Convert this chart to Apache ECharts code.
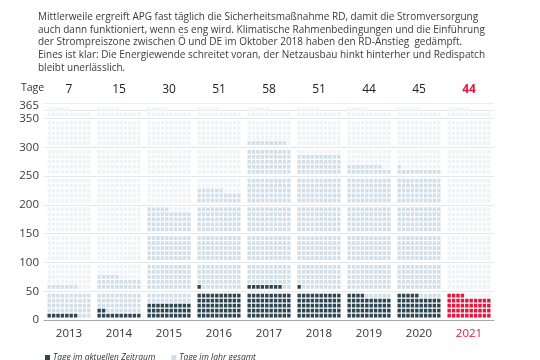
<!DOCTYPE html>
<html><head><meta charset="utf-8">
<script src="https://cdn.jsdelivr.net/npm/echarts@6/dist/echarts.min.js"></script>
<style>html,body{margin:0;padding:0;background:#fff}#c{width:540px;height:360px}</style>
</head><body><div id="c"></div>
<script>
// ---- data ----
const years = ['2013','2014','2015','2016','2017','2018','2019','2020','2021'];
const tageLabels = ['7','15','30','51','58','51','44','45','44'];
const daysCurrent = [7,12,30,51,58,51,44,45,44];
const daysTotal = [57,75,195,226,309,290,268,261,44];
const daysInYear = [365,365,365,365,365,365,365,365,365];
const highlightYear = '2021';
const introText = [
  'Mittlerweile ergreift APG fast täglich die Sicherheitsmaßnahme RD, damit die Stromversorgung',
  'auch dann funktioniert, wenn es eng wird. Klimatische Rahmenbedingungen und die Einführung',
  'der Strompreiszone zwischen Ö und DE im Oktober 2018 haben den RD-Anstieg  gedämpft.',
  'Eines ist klar: Die Energiewende schreitet voran, der Netzausbau hinkt hinterher und Redispatch',
  'bleibt unerlässlich.'
];

const DARK = '#2d4451', LIGHT = '#d2dfe9', BG = '#eff3f6', RED = '#e5173c';
const FONT = 'Open Sans';

function waffle(params, api) {
  const k = api.value(0), n = api.value(1);
  const color = api.visual('color');
  const bw = api.size([1, 0])[0];
  const cx = api.coord([k, 0])[0];
  const pitchX = bw * 0.088;
  const w = pitchX * 0.76;
  const x0 = cx - pitchX * 5;
  const h = api.size([0, 6.4])[1];
  const children = [];
  for (let i = 0; i < n; i++) {
    const b = Math.floor(i / 50), j = Math.floor((i % 50) / 10), c = i % 10;
    const yv = b * 50 + 7.6 + j * 8.7;
    const y = api.coord([k, yv])[1];
    children.push({type: 'rect', shape: {x: x0 + c * pitchX + (pitchX - w) / 2, y: y - h / 2, width: w, height: h}, style: {fill: color}});
  }
  return {type: 'group', children};
}

const chart = echarts.init(document.getElementById('c'), null, {renderer: 'canvas'});
chart.setOption({
  animation: false,
  title: {
    text: introText.join('\n'), left: 33, top: 6,
    textStyle: {fontFamily: FONT, fontSize: 10, fontWeight: 'normal', color: '#3a3a3a', lineHeight: 12.6}
  },
  graphic: [{type: 'text', left: 21, top: 83, style: {text: 'Tage', fontFamily: FONT, fontSize: 10.5, fill: '#333'}}],
  legend: {
    left: 40, top: 348, itemWidth: 5, itemHeight: 5, itemGap: 16, icon: 'rect',
    data: ['Tage im aktuellen Zeitraum', 'Tage im Jahr gesamt'],
    textStyle: {fontFamily: FONT, fontSize: 8.5, fontStyle: 'italic', color: '#333', padding: [0, 0, 0, -2]}
  },
  grid: {left: 44, right: 46, top: 110, bottom: 40},
  xAxis: [{
    type: 'category', data: years,
    axisLine: {lineStyle: {color: '#a8a8a8'}},
    axisTick: {length: 4, lineStyle: {color: '#a8a8a8'}},
    axisLabel: {interval: 0, margin: 8, fontFamily: FONT, fontSize: 11.5, color: '#333',
      formatter: v => v === highlightYear ? '{r|' + v + '}' : v,
      rich: {r: {color: RED, fontFamily: FONT, fontSize: 11.5}}}
  }, {
    type: 'category', data: years, position: 'top', offset: 7,
    axisLine: {show: true, lineStyle: {color: '#eceff2'}}, axisTick: {show: false},
    axisLabel: {interval: 0, margin: 7, fontFamily: FONT, fontSize: 12, color: '#222',
      formatter: (v, idx) => v === highlightYear ? '{r|' + tageLabels[idx] + '}' : tageLabels[idx],
      rich: {r: {color: RED, fontWeight: 'bold', fontFamily: FONT, fontSize: 12}}}
  }],
  yAxis: {
    type: 'value', min: 0, max: 365, interval: 50,
    axisLine: {show: false}, axisTick: {show: false},
    splitLine: {lineStyle: {color: '#e4e8ec'}},
    axisLabel: {margin: 5, fontFamily: FONT, fontSize: 11.5, color: '#3a3a3a',
      formatter: v => v === 365 ? '{t|365}' : String(v),
      rich: {t: {padding: [0, 0, 8, 0], fontFamily: FONT, fontSize: 11.5, color: '#3a3a3a'}}}
  },
  series: [{
    name: 'bg', type: 'custom', silent: true, renderItem: waffle,
    itemStyle: {color: BG}, encode: {x: 0, y: 1},
    data: daysInYear.map((v, k) => [k, v])
  }, {
    name: 'Tage im Jahr gesamt', type: 'custom', silent: true, renderItem: waffle,
    itemStyle: {color: LIGHT}, encode: {x: 0, y: 1},
    data: daysTotal.map((v, k) => [k, v])
  }, {
    name: 'Tage im aktuellen Zeitraum', type: 'custom', silent: true, renderItem: waffle,
    itemStyle: {color: DARK}, encode: {x: 0, y: 1},
    data: daysCurrent.map((v, k) => ({value: [k, v], itemStyle: {color: years[k] === highlightYear ? RED : DARK}}))
  }]
});
</script></body></html>
